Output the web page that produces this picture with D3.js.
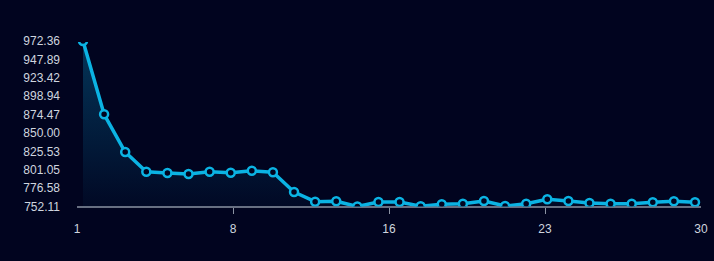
<!DOCTYPE html>
<html>
<head>
<meta charset="utf-8">
<script src="https://cdn.jsdelivr.net/npm/d3@7/dist/d3.min.js"></script>
<style>
html, body { margin: 0; padding: 0; background: #01041f; }
svg { display: block; }
</style>
</head>
<body>
<svg id="chart" width="714" height="261"></svg>
<script>
// DATA
var days = d3.range(1, 31);
var values = [972.36, 874.8, 824.6, 798.4, 796.7, 795.3, 798.4, 797.1, 799.7, 797.6,
              771.4, 758.5, 759.0, 752.11, 758.1, 758.1, 752.5, 755.0, 755.8, 759.4,
              752.8, 755.8, 761.7, 759.4, 756.8, 755.8, 755.8, 757.7, 759.0, 757.7];
var yTickLabels = ['752.11', '776.58', '801.05', '825.53', '850.00',
                   '874.47', '898.94', '923.42', '947.89', '972.36'];
var xTickLabels = ['1', '8', '16', '23', '30'];

// CHART
var chrt = {
    config: {
        left: 77, right: 701, inset: 6,
        top: 41, bottom: 206.5, axis_y: 207,
        line: '#0bb3e3', text: '#cfd5df', axis: '#8b93a3', bg: '#01041f'
    },
    build_chart: function() {
        var c = this.config;
        var svg = d3.select('svg#chart');

        // axis scale spans the whole line, points sit a little inside it
        var xa = d3.scaleLinear().domain([1, 30]).range([c.left, c.right]);
        var x = d3.scaleLinear().domain([1, 30]).range([c.left + c.inset, c.right - c.inset]);
        var y = d3.scaleLinear().domain([+yTickLabels[0], +yTickLabels[yTickLabels.length - 1]])
            .range([c.bottom, c.top]);

        var defs = svg.append('defs');
        var grad = defs.append('linearGradient')
            .attr('id', 'fade')
            .attr('gradientUnits', 'userSpaceOnUse')
            .attr('x1', 0).attr('x2', 0)
            .attr('y1', c.top).attr('y2', c.bottom);
        grad.append('stop').attr('offset', '0%').attr('stop-color', '#0aa8e0').attr('stop-opacity', 0.3);
        grad.append('stop').attr('offset', '100%').attr('stop-color', '#0aa8e0').attr('stop-opacity', 0.03);

        // clip a touch inside the top so the max point shows only its lower half
        defs.append('clipPath').attr('id', 'plot')
            .append('rect')
            .attr('x', c.left).attr('y', c.top + 1)
            .attr('width', c.right - c.left + 4)
            .attr('height', c.bottom - c.top - 1);

        // Y labels
        svg.append('g').selectAll('text')
            .data(yTickLabels)
            .join('text')
            .attr('x', 60)
            .attr('y', function(d) { return y(+d); })
            .attr('dy', '0.35em')
            .attr('text-anchor', 'end')
            .attr('fill', c.text)
            .style('font', '12px "Liberation Sans", Arial, sans-serif')
            .text(function(d) { return d; });

        // X axis
        var xticks = xTickLabels.map(function(d, i) { return 1 + i * 29 / (xTickLabels.length - 1); });
        var gx = svg.append('g').attr('transform', 'translate(0,' + c.axis_y + ')');
        gx.append('line')
            .attr('x1', c.left).attr('x2', c.right)
            .attr('stroke', c.axis).attr('stroke-width', 1.5);
        gx.selectAll('line.tick')
            .data(xticks.slice(1, -1))
            .join('line')
            .attr('class', 'tick')
            .attr('x1', function(d) { return Math.round(xa(d)) + 0.5; })
            .attr('x2', function(d) { return Math.round(xa(d)) + 0.5; })
            .attr('y1', 1).attr('y2', 7)
            .attr('stroke', c.axis);
        gx.selectAll('text')
            .data(xticks)
            .join('text')
            .attr('x', function(d) { return xa(d); })
            .attr('y', 22)
            .attr('dy', '0.35em')
            .attr('text-anchor', 'middle')
            .attr('fill', c.text)
            .style('font', '12px "Liberation Sans", Arial, sans-serif')
            .text(function(d, i) { return xTickLabels[i]; });

        var data = days.map(function(d, i) { return { day: d, value: values[i] }; });

        var plot = svg.append('g').attr('clip-path', 'url(#plot)');

        var area = d3.area()
            .x(function(d) { return x(d.day); })
            .y0(c.bottom)
            .y1(function(d) { return y(d.value); });
        plot.append('path')
            .datum(data)
            .attr('fill', 'url(#fade)')
            .attr('d', area);

        var line = d3.line()
            .x(function(d) { return x(d.day); })
            .y(function(d) { return y(d.value); });
        plot.append('path')
            .datum(data)
            .attr('fill', 'none')
            .attr('stroke', c.line)
            .attr('stroke-width', 3.5)
            .attr('stroke-linejoin', 'round')
            .attr('d', line);

        plot.selectAll('circle')
            .data(data)
            .join('circle')
            .attr('cx', function(d) { return x(d.day); })
            .attr('cy', function(d) { return y(d.value); })
            .attr('r', 4)
            .attr('fill', c.bg)
            .attr('stroke', c.line)
            .attr('stroke-width', 2.5);
    }
};

chrt.build_chart();
</script>
</body>
</html>
